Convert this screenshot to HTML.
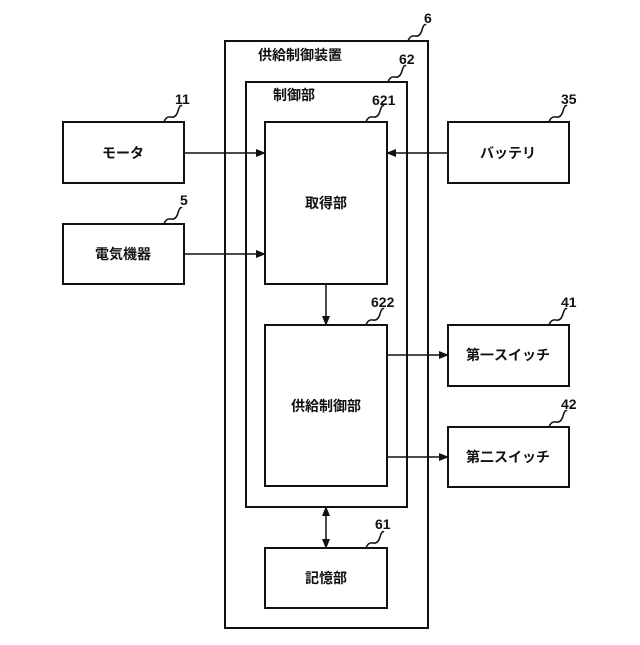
<!DOCTYPE html><html><head><meta charset="utf-8"><style>body{margin:0;background:#fff}svg text{font-family:"Liberation Sans","Noto Sans CJK JP",sans-serif;font-weight:bold;fill:#111}</style></head><body>
<svg width="640" height="640" viewBox="0 0 640 640" xmlns="http://www.w3.org/2000/svg">
<defs><marker id="a" markerWidth="10" markerHeight="8" refX="9" refY="4" orient="auto" markerUnits="userSpaceOnUse"><path d="M0,0 L10,4 L0,8 z" fill="#111"/></marker>
<marker id="b" markerWidth="10" markerHeight="8" refX="1" refY="4" orient="auto" markerUnits="userSpaceOnUse"><path d="M10,0 L0,4 L10,8 z" fill="#111"/></marker></defs>
<g fill="none" stroke="#111" stroke-width="2">
<rect x="225" y="41" width="203" height="587"/>
<rect x="246" y="82" width="161" height="425"/>
<rect x="265" y="122" width="122" height="162"/>
<rect x="265" y="325" width="122" height="161"/>
<rect x="265" y="548" width="122" height="60"/>
<rect x="63" y="122" width="121" height="61"/>
<rect x="63" y="224" width="121" height="60"/>
<rect x="448" y="122" width="121" height="61"/>
<rect x="448" y="325" width="121" height="61"/>
<rect x="448" y="427" width="121" height="60"/>
</g>
<g stroke="#111" stroke-width="1.5" fill="none">
<line x1="184" y1="153" x2="265" y2="153" marker-end="url(#a)"/>
<line x1="184" y1="254" x2="265" y2="254" marker-end="url(#a)"/>
<line x1="448" y1="153" x2="387" y2="153" marker-end="url(#a)"/>
<line x1="326" y1="284" x2="326" y2="325" marker-end="url(#a)"/>
<line x1="387" y1="355" x2="448" y2="355" marker-end="url(#a)"/>
<line x1="387" y1="457" x2="448" y2="457" marker-end="url(#a)"/>
<line x1="326" y1="507" x2="326" y2="548" marker-start="url(#b)" marker-end="url(#a)"/>
<path d="M408,41 q2,-6 7,-5 t7,-6 t4,-5"/>
<path d="M388,82 q2,-6 7,-5 t7,-6 t4,-5"/>
<path d="M366,122 q2,-6 7,-5 t7,-6 t4,-5"/>
<path d="M164,122 q2,-6 7,-5 t7,-6 t4,-5"/>
<path d="M164,224 q2,-6 7,-5 t7,-6 t4,-5"/>
<path d="M549,122 q2,-6 7,-5 t7,-6 t4,-5"/>
<path d="M366,325 q2,-6 7,-5 t7,-6 t4,-5"/>
<path d="M549,325 q2,-6 7,-5 t7,-6 t4,-5"/>
<path d="M549,427 q2,-6 7,-5 t7,-6 t4,-5"/>
<path d="M366,548 q2,-6 7,-5 t7,-6 t4,-5"/>
</g>
<g font-size="14">
<text x="424" y="23">6</text>
<text x="399" y="64">62</text>
<text x="372" y="105">621</text>
<text x="175" y="104">11</text>
<text x="180" y="205">5</text>
<text x="561" y="104">35</text>
<text x="371" y="307">622</text>
<text x="561" y="307">41</text>
<text x="561" y="409">42</text>
<text x="375" y="529">61</text>
</g>
<g font-size="14" text-anchor="middle">
<text x="300" y="60">供給制御装置</text>
<text x="294" y="100">制御部</text>
<text x="326" y="208">取得部</text>
<text x="326" y="411">供給制御部</text>
<text x="326" y="583">記憶部</text>
<text x="123" y="158">モータ</text>
<text x="123" y="259">電気機器</text>
<text x="508" y="158">バッテリ</text>
<text x="508" y="360">第一スイッチ</text>
<text x="508" y="462">第二スイッチ</text>
</g>
</svg></body></html>
